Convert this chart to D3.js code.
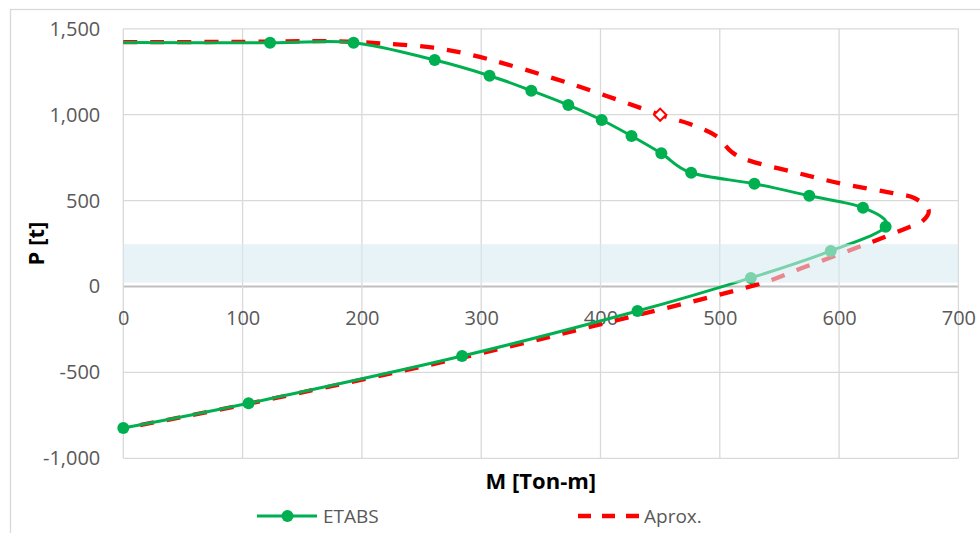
<!DOCTYPE html>
<html>
<head>
<meta charset="utf-8">
<script src="https://cdn.jsdelivr.net/npm/d3@7"></script>
<style>
  html, body { margin: 0; padding: 0; background: #ffffff; }
  svg { display: block; }
</style>
</head>
<body>
<svg id="chart" width="980" height="533"></svg>
<script>
// ---- data ----
const xTicks = [0, 100, 200, 300, 400, 500, 600, 700];
const yTicks = [-1000, -500, 0, 500, 1000, 1500];

// ETABS interaction curve (M [Ton-m], P [t])
const etabsM = [0, 123, 193, 261, 307, 342, 373, 401, 426, 451, 476, 529, 575, 620, 639, 593, 526, 431, 284, 105, 0];
const etabsP = [1420, 1419, 1419, 1318, 1227, 1140, 1056, 969, 876, 775, 662, 598, 528, 459, 348, 207, 50, -143, -405, -680, -824];
const etabsMarker = [0, 1, 1, 1, 1, 1, 1, 1, 1, 1, 1, 1, 1, 1, 1, 1, 1, 1, 1, 1, 1];

// Approximate curve
const aproxM = [0, 100, 175, 215, 260, 305, 375, 450, 475, 497, 510, 526, 565, 600, 645, 663, 675, 669, 657, 636, 614, 570, 528, 432, 285, 105, 0];
const aproxP = [1422, 1424, 1428, 1415, 1390, 1325, 1180, 1000, 946, 876, 783, 730, 661, 602, 544, 515, 445, 375, 341, 282, 224, 110, 5, -165, -412, -682, -825];
// highlighted point of the approximate curve
const aproxMarkM = [450];
const aproxMarkP = [1000];

// shaded band (P range)
const bandP = [22, 247];

const seriesNames = ["ETABS", "Aprox."];
const xTitle = "M [Ton-m]";
const yTitle = "P [t]";

// ---- layout ----
const svg = d3.select("#chart");
const pL = 123.3, pR = 958.4, pT = 28.8, pB = 458.3;
const x = d3.scaleLinear().domain([0, 700]).range([pL, pR]);
const y = d3.scaleLinear().domain([-1000, 1500]).range([pB, pT]);
const fmt = v => d3.format(",")(v).replace("\u2212", "-");
const FONT = "'Open Sans', 'Noto Sans', sans-serif";
const green = "#00b050", red = "#ff0000";

// outer chart frame
svg.append("rect").attr("x", 10.5).attr("y", 9.5).attr("width", 1000).attr("height", 600)
  .attr("fill", "#fff").attr("stroke", "#d9d9d9").attr("stroke-width", 1.3);

// gridlines
const grid = svg.append("g");
grid.selectAll(".hg").data(yTicks).join("line")
  .attr("x1", pL).attr("x2", pR)
  .attr("y1", d => y(d)).attr("y2", d => y(d))
  .attr("stroke", d => d === 0 ? "#bfbfbf" : "#d9d9d9")
  .attr("stroke-width", d => d === 0 ? 1.8 : 1.3);
grid.selectAll(".vg").data(xTicks).join("line")
  .attr("y1", pT).attr("y2", pB)
  .attr("x1", d => x(d)).attr("x2", d => x(d))
  .attr("stroke", "#d9d9d9").attr("stroke-width", 1.3);

// axes (labels only)
const yAxis = svg.append("g").attr("transform", `translate(${pL},0)`)
  .call(d3.axisLeft(y).tickValues(yTicks).tickFormat(fmt).tickSize(0).tickPadding(23));
const xAxis = svg.append("g").attr("transform", `translate(0,${y(0)})`)
  .call(d3.axisBottom(x).tickValues(xTicks).tickFormat(fmt).tickSize(0).tickPadding(24));
[yAxis, xAxis].forEach(a => {
  a.select(".domain").remove();
  a.selectAll("text").attr("fill", "#595959").style("font-family", FONT).style("font-size", "20px");
});

// curves
const etabs = etabsM.map((m, i) => ({ m, p: etabsP[i], mk: etabsMarker[i] }));
const aprox = aproxM.map((m, i) => ({ m, p: aproxP[i] }));
const line = d3.line().x(d => x(d.m)).y(d => y(d.p)).curve(d3.curveCardinal.tension(0));

svg.append("path").datum(aprox).attr("d", line)
  .attr("fill", "none").attr("stroke", red).attr("stroke-width", 4.3)
  .attr("stroke-dasharray", "14,13");

svg.append("path").datum(etabs).attr("d", line)
  .attr("fill", "none").attr("stroke", green).attr("stroke-width", 3);

svg.selectAll(".mk").data(etabs.filter(d => d.mk)).join("circle")
  .attr("cx", d => x(d.m)).attr("cy", d => y(d.p)).attr("r", 6)
  .attr("fill", green);

// diamond marker
const marks = aproxMarkM.map((m, i) => ({ m, p: aproxMarkP[i] }));
svg.selectAll(".dm").data(marks).join("path")
  .attr("d", d3.symbol().type(d3.symbolDiamond2).size(95))
  .attr("transform", d => `translate(${x(d.m)},${y(d.p)})`)
  .attr("fill", "#fff").attr("stroke", red).attr("stroke-width", 2);

// shaded band on top
svg.append("rect")
  .attr("x", pL).attr("width", pR - pL)
  .attr("y", y(bandP[1])).attr("height", y(bandP[0]) - y(bandP[1]))
  .attr("fill", "rgb(215,234,243)").attr("fill-opacity", 0.58);

// axis titles
svg.append("text").attr("x", (pL + pR) / 2).attr("y", 489)
  .attr("text-anchor", "middle").attr("fill", "#000")
  .style("font-family", FONT).style("font-size", "22px").style("font-weight", "bold")
  .text(xTitle);
svg.append("text").attr("transform", `translate(44,${(pT + pB) / 2}) rotate(-90)`)
  .attr("text-anchor", "middle").attr("fill", "#000")
  .style("font-family", FONT).style("font-size", "22px").style("font-weight", "bold")
  .text(yTitle);

// legend
const lg = svg.append("g");
const ly = 516;
lg.append("line").attr("x1", 257).attr("x2", 317).attr("y1", ly).attr("y2", ly)
  .attr("stroke", green).attr("stroke-width", 3);
lg.append("circle").attr("cx", 287.5).attr("cy", ly).attr("r", 6).attr("fill", green);
lg.append("text").attr("x", 323).attr("y", ly).attr("dy", "0.36em")
  .attr("fill", "#595959").style("font-family", FONT).style("font-size", "19px")
  .text(seriesNames[0]);
lg.append("line").attr("x1", 578).attr("x2", 639).attr("y1", ly).attr("y2", ly)
  .attr("stroke", red).attr("stroke-width", 4.3).attr("stroke-dasharray", "13,11");
lg.append("text").attr("x", 644).attr("y", ly).attr("dy", "0.36em")
  .attr("fill", "#595959").style("font-family", FONT).style("font-size", "19px")
  .text(seriesNames[1]);
</script>
</body>
</html>
